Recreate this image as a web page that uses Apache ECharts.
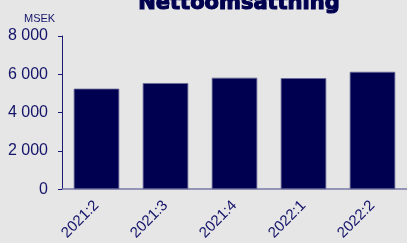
<!DOCTYPE html>
<html>
<head>
<meta charset="utf-8">
<script src="https://cdn.jsdelivr.net/npm/echarts@6/dist/echarts.min.js"></script>
<style>
html, body { margin: 0; padding: 0; background: #e6e6e6; }
#chart { width: 407px; height: 243px; }
</style>
</head>
<body>
<div id="chart"></div>
<script>
var categories = ['2021:2', '2021:3', '2021:4', '2022:1', '2022:2'];
var revenue = [5250, 5540, 5820, 5800, 6130];
var yTicks = [0, 2000, 4000, 6000, 8000];

var navy = '#000050';
var textColor = '#14146a';

var chart = echarts.init(document.getElementById('chart'));
chart.setOption({
	backgroundColor: '#e6e6e6',
	animation: false,
	title: {
		text: 'Nettoomsättning',
		left: 234,
		textAlign: 'center',
		top: -12,
		textStyle: {
			fontFamily: 'DejaVu Sans', fontWeight: 'bold', fontSize: 21, color: navy,
			textBorderColor: navy, textBorderWidth: 1.2
		}
	},
	graphic: [{
		type: 'text',
		left: 24,
		top: 13,
		style: { text: 'MSEK', fontFamily: 'Liberation Sans', fontSize: 11, fill: textColor }
	}],
	grid: { left: 62, right: -3, top: 36, bottom: 53 },
	xAxis: {
		type: 'category',
		data: categories,
		axisLine: { lineStyle: { color: '#7a7aa6', width: 1.5 } },
		axisTick: { length: 4, lineStyle: { color: '#2a2a70' } },
		axisLabel: { rotate: 45, margin: 14, fontFamily: 'Liberation Sans', fontSize: 15, color: textColor }
	},
	yAxis: {
		type: 'value',
		min: yTicks[0],
		max: yTicks[yTicks.length - 1],
		interval: 2000,
		splitLine: { show: false },
		axisLine: { show: true, lineStyle: { color: '#1a1a70' } },
		axisTick: { show: true, length: 4, lineStyle: { color: '#1a1a70' } },
		axisLabel: {
			margin: 14,
			fontFamily: 'Liberation Sans',
			fontSize: 16,
			color: textColor,
			formatter: function (v) { return String(v).replace(/\B(?=(\d{3})+(?!\d))/g, ' '); }
		}
	},
	series: [{
		type: 'bar',
		data: revenue,
		barWidth: '66%',
		itemStyle: { color: navy, borderColor: '#6a6a98', borderWidth: 0.8 }
	}]
});
</script>
</body>
</html>
